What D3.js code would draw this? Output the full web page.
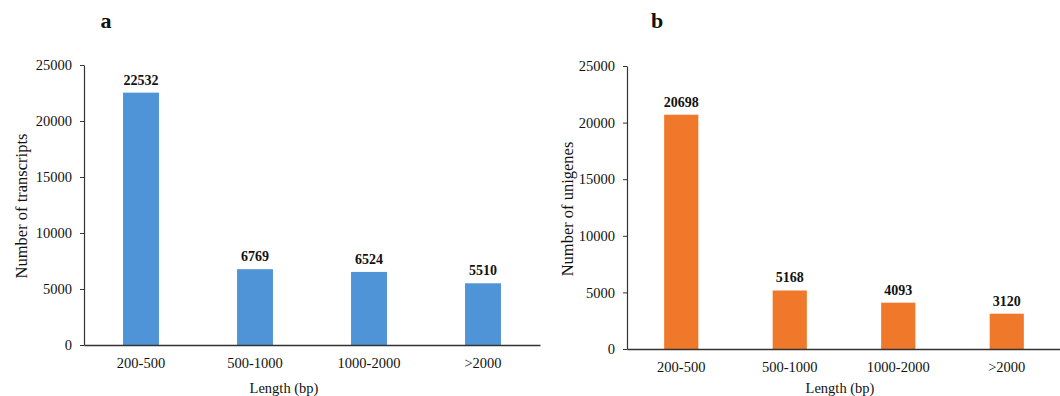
<!DOCTYPE html>
<html>
<head>
<meta charset="utf-8">
<script src="https://cdn.jsdelivr.net/npm/d3@7"></script>
<style>
  html, body { margin: 0; padding: 0; background: #fff; }
  svg { display: block; }
  text { font-family: "Liberation Serif", "Times New Roman", serif; fill: #111; }
</style>
</head>
<body>
<svg id="chart" width="1060" height="396"></svg>
<script>
// Length classes shared by both panels
const lengthBins = ["200-500", "500-1000", "1000-2000", ">2000"];
// Counts per length class
const transcriptCounts = [22532, 6769, 6524, 5510];
const unigeneCounts = [20698, 5168, 4093, 3120];
// Y-axis ticks
const yTicks = [0, 5000, 10000, 15000, 20000, 25000];

const svg = d3.select("#chart");

function drawPanel(opts) {
  const { letter, letterX, values, color, yLabel, yLabelX, yLabelY, xLabelX,
          left, right, top, bottom } = opts;
  const g = svg.append("g");

  const x = d3.scaleBand()
    .domain(lengthBins)
    .range([left, right])
    .paddingInner(0.685)
    .paddingOuter(0.3425);

  const y = d3.scaleLinear()
    .domain([0, 25000])
    .range([bottom, top]);

  // bars
  g.selectAll("rect.bar")
    .data(values)
    .join("rect")
    .attr("class", "bar")
    .attr("x", (d, i) => x(lengthBins[i]))
    .attr("y", d => y(d))
    .attr("width", x.bandwidth())
    .attr("height", d => y(0) - y(d))
    .attr("fill", color);

  // value labels
  g.selectAll("text.val")
    .data(values)
    .join("text")
    .attr("class", "val")
    .attr("x", (d, i) => x(lengthBins[i]) + x.bandwidth() / 2)
    .attr("y", d => y(d) - 8)
    .attr("text-anchor", "middle")
    .style("font-size", "14px")
    .style("font-weight", "bold")
    .text(d => d);

  // y axis
  const yAxis = g.append("g")
    .attr("transform", `translate(${left},0)`)
    .call(d3.axisLeft(y).tickValues(yTicks).tickFormat(d3.format("d"))
      .tickSize(4).tickPadding(8).tickSizeOuter(0));
  yAxis.select(".domain").attr("stroke", "#333").attr("stroke-width", 1.2);
  yAxis.selectAll(".tick line").attr("stroke", "#333");
  yAxis.selectAll(".tick text")
    .style("font-size", "14.5px")
    .style("font-family", "'Liberation Serif', serif")
    .attr("fill", "#111");

  // x axis
  const xAxis = g.append("g")
    .attr("transform", `translate(0,${bottom})`)
    .call(d3.axisBottom(x).tickSize(0).tickPadding(13));
  xAxis.select(".domain").attr("stroke", "#333").attr("stroke-width", 1.6);
  xAxis.selectAll(".tick text")
    .style("font-size", "14.5px")
    .style("font-family", "'Liberation Serif', serif")
    .attr("fill", "#111");

  // axis titles
  g.append("text")
    .attr("x", xLabelX)
    .attr("y", 393)
    .attr("text-anchor", "middle")
    .style("font-size", "14.5px")
    .text("Length (bp)");

  g.append("text")
    .attr("transform", `translate(${yLabelX},${yLabelY}) rotate(-90)`)
    .attr("text-anchor", "middle")
    .attr("dy", "0.35em")
    .style("font-size", "16.5px")
    .text(yLabel);

  // panel letter
  g.append("text")
    .attr("x", letterX)
    .attr("y", 28)
    .attr("text-anchor", "middle")
    .style("font-size", "22px")
    .style("font-weight", "bold")
    .text(letter);
}

drawPanel({
  letter: "a", letterX: 106,
  values: transcriptCounts, color: "#4F94D6",
  yLabel: "Number of transcripts", yLabelX: 21, yLabelY: 206, xLabelX: 284,
  left: 84, right: 540, top: 65, bottom: 345
});

drawPanel({
  letter: "b", letterX: 657,
  values: unigeneCounts, color: "#F0782A",
  yLabel: "Number of unigenes", yLabelX: 567, yLabelY: 209, xLabelX: 840,
  left: 627, right: 1061, top: 66, bottom: 349
});
</script>
</body>
</html>
